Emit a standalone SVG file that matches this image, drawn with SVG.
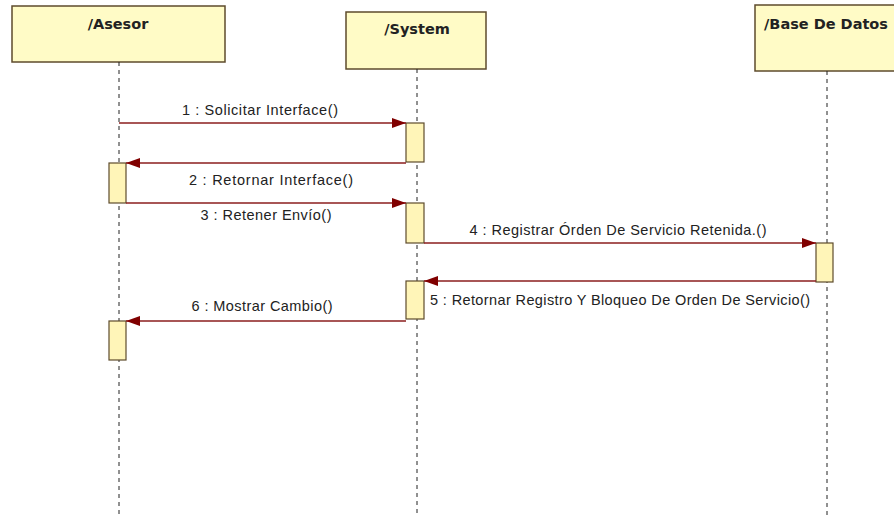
<svg xmlns="http://www.w3.org/2000/svg" width="894" height="516" viewBox="0 0 894 516">
<defs>
<marker id="ah" viewBox="0 0 14 10" refX="14" refY="5" markerWidth="14" markerHeight="10" markerUnits="userSpaceOnUse" orient="auto">
<path d="M0,0 L14,5 L0,10 Z" fill="#800000"/>
</marker>
</defs>
<style>
.head{fill:#FFFBC6;stroke:#5E4B2C;stroke-width:1.5}
.act{fill:#FFF5B8;stroke:#5E4B2C;stroke-width:1.2}
.life{stroke:#222;stroke-width:1;stroke-dasharray:4 4}
.msg{stroke:#8B1E1E;stroke-width:1.3;fill:none;marker-end:url(#ah)}
.ht{font-family:"DejaVu Sans",sans-serif;font-weight:bold;font-size:14.5px;fill:#222;text-anchor:middle}
.lb{font-family:"Liberation Sans",Arial,sans-serif;font-size:14.5px;fill:#222;text-anchor:middle}
</style>
<rect width="894" height="516" fill="#fff"/>
<g id="asesor">
<rect class="head" x="12" y="6" width="213" height="56"/>
<text class="ht" x="118" y="29">/Asesor</text>
<line class="life" x1="119" y1="62" x2="119" y2="516"/>
</g>
<g id="system">
<rect class="head" x="346" y="12" width="140" height="57"/>
<text class="ht" x="417" y="34">/System</text>
<line class="life" x1="417" y1="69" x2="417" y2="516"/>
</g>
<g id="basedatos">
<rect class="head" x="755" y="5" width="144" height="66"/>
<text class="ht" x="826" y="29">/Base De Datos</text>
<line class="life" x1="827" y1="71" x2="827" y2="516"/>
</g>
<g id="activations">
<rect class="act" x="406" y="123" width="18" height="39"/>
<rect class="act" x="109" y="163" width="17" height="40"/>
<rect class="act" x="406" y="203" width="18" height="40"/>
<rect class="act" x="816" y="243" width="17" height="39"/>
<rect class="act" x="406" y="281" width="18" height="38"/>
<rect class="act" x="109" y="321" width="17" height="39"/>
</g>
<g id="connectors">
<line class="msg" x1="119" y1="123" x2="406" y2="123"/>
<line class="msg" x1="406" y1="163" x2="126" y2="163"/>
<line class="msg" x1="126" y1="203" x2="406" y2="203"/>
<line class="msg" x1="424" y1="243" x2="816" y2="243"/>
<line class="msg" x1="816" y1="281" x2="424" y2="281"/>
<line class="msg" x1="406" y1="321" x2="126" y2="321"/>
</g>
<g id="labels">
<text class="lb" x="260" y="115" textLength="156" lengthAdjust="spacing">1 : Solicitar Interface()</text>
<text class="lb" x="271" y="185" textLength="164" lengthAdjust="spacing">2 : Retornar Interface()</text>
<text class="lb" x="266" y="220" textLength="131" lengthAdjust="spacing">3 : Retener Envío()</text>
<text class="lb" x="618" y="235" textLength="297" lengthAdjust="spacing">4 : Registrar Órden De Servicio Retenida.()</text>
<text class="lb" x="620" y="305" textLength="380" lengthAdjust="spacing">5 : Retornar Registro Y Bloqueo De Orden De Servicio()</text>
<text class="lb" x="262" y="311" textLength="141" lengthAdjust="spacing">6 : Mostrar Cambio()</text>
</g>
</svg>
